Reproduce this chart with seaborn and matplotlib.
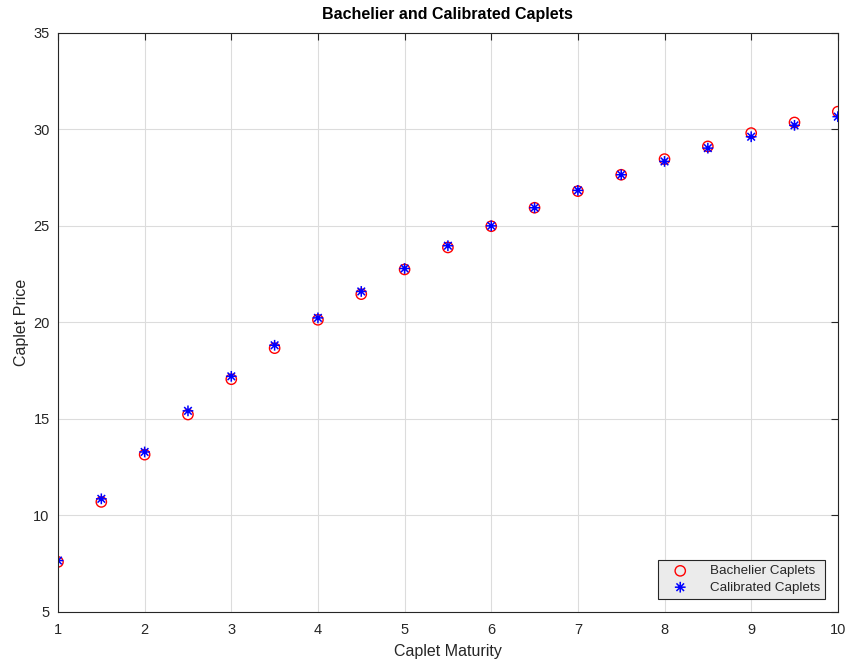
import numpy as np
import pandas as pd
import matplotlib
matplotlib.use("Agg")
import matplotlib.pyplot as plt
from matplotlib.path import Path
import seaborn as sns

maturity = [1, 1.5, 2, 2.5, 3, 3.5, 4, 4.5, 5, 5.5, 6, 6.5, 7, 7.5, 8, 8.5, 9, 9.5, 10]
bachelier = [7.58, 10.69, 13.14, 15.22, 17.05, 18.66, 20.13, 21.46, 22.74, 23.88,
             24.98, 25.94, 26.80, 27.65, 28.46, 29.12, 29.81, 30.36, 30.92]
calibrated = [7.65, 10.85, 13.28, 15.41, 17.20, 18.81, 20.23, 21.60, 22.79, 23.97,
              25.00, 25.94, 26.84, 27.65, 28.34, 29.03, 29.62, 30.21, 30.66]

# matlab-like asterisk marker (+ and x on top of each other)
d = 0.7071
asterisk = Path([(0, -1), (0, 1), (-1, 0), (1, 0), (-d, -d), (d, d), (-d, d), (d, -d)],
                [Path.MOVETO, Path.LINETO] * 4)

sns.set_style("white")
plt.rcParams['font.family'] = ['Liberation Sans', 'DejaVu Sans']

fig = plt.figure(figsize=(8.48, 6.59), dpi=100)
ax = fig.add_axes([0.0684, 0.0718, 0.9196, 0.8782])

sns.scatterplot(x=maturity, y=bachelier, ax=ax, marker='o', s=55,
                facecolors='none', edgecolor='red', linewidth=1.0,
                label='Bachelier Caplets')
sns.scatterplot(x=maturity, y=calibrated, ax=ax, marker=asterisk, s=60,
                facecolors='none', edgecolor='blue', linewidth=1.1,
                label='Calibrated Caplets')

ax.set_xlim(1, 10)
ax.set_ylim(5, 35)
ax.set_xticks(range(1, 11))
ax.set_yticks(range(5, 36, 5))
ax.grid(True, color='#dcdcdc', linewidth=0.8)
ax.set_axisbelow(True)
for s in ax.spines.values():
    s.set_color('#262626')
    s.set_linewidth(0.8)
ax.tick_params(direction='in', top=True, right=True, length=5, width=0.8,
               colors='#262626', labelsize=10.5)
ax.tick_params(axis='x', pad=8)
ax.tick_params(axis='y', pad=6)
ax.set_xlabel('Caplet Maturity', fontsize=11.5, color='#262626', labelpad=5)
ax.set_ylabel('Caplet Price', fontsize=11.5, color='#262626', labelpad=3)
ax.set_title('Bachelier and Calibrated Caplets', fontsize=11.5, fontweight='bold',
             color='black', pad=10)

leg = ax.legend(loc='lower right', fontsize=9.6, frameon=True, fancybox=False,
                framealpha=1, borderpad=0.4, labelspacing=0.3, handlelength=2.6,
                handletextpad=0.9, borderaxespad=0.95)
leg.get_frame().set_edgecolor('#262626')
leg.get_frame().set_facecolor('#ebebeb')
leg.get_frame().set_linewidth(0.8)

fig.savefig('out.png', dpi=100)
